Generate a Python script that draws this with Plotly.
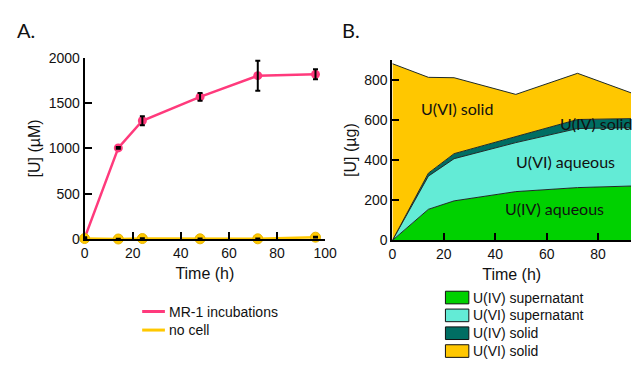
import plotly.graph_objects as go

# ---------------- data ----------------
time_h = [0, 14, 24, 48, 72, 96]

# Panel A  [U] (µM)
mr1_incubations = [10, 1005, 1305, 1568, 1802, 1817]
mr1_error = [10, 10, 50, 42, 165, 55]
no_cell = [5, 0, 5, 2, 2, 20]
no_cell_error = [4, 4, 4, 4, 4, 4]

# Panel B  [U] (µg), stacked
u4_supernatant = [0, 155, 197, 243, 263, 272]
u6_supernatant = [0, 165, 210, 244, 294, 290]
u4_solid = [0, 15, 25, 30, 45, 45]
u6_solid = [880, 477, 378, 210, 230, 113]

a_ticks = [0, 20, 40, 60, 80, 100]
a_yticks = [0, 500, 1000, 1500, 2000]
b_xticks = [0, 20, 40, 60, 80, 100]
b_yticks = [0, 200, 400, 600, 800]

legend_a = ["MR-1 incubations", "no cell"]
legend_b = ["U(IV) supernatant", "U(VI) supernatant", "U(IV) solid", "U(VI) solid"]
area_labels = ["U(IV) aqueous", "U(VI) aqueous", "U(IV) solid", "U(VI) solid"]
area_label_pos = [(62.9, 157), (67.2, 392), (79.0, 580), (25.3, 658)]

# ---------------- styles ----------------
W, H = 643, 368
PINK = "#FF3A7C"
YEL = "#FFC800"
B_COLORS = ["#00D100", "#63EBD6", "#006E63", "#FFC700"]
AX = "Liberation Sans, Arial, sans-serif"
AV = "Lato, sans-serif"

def px(x):
    return x / W

def py(y):
    return 1 - y / H

fig = go.Figure()

# Panel A lines
fig.add_trace(go.Scatter(x=time_h, y=mr1_incubations, mode="lines+markers",
                         line=dict(color=PINK, width=2.5),
                         marker=dict(color=PINK, size=9),
                         cliponaxis=False, showlegend=False,
                         xaxis="x", yaxis="y"))
fig.add_trace(go.Scatter(x=time_h, y=no_cell, mode="lines+markers",
                         line=dict(color=YEL, width=2.5),
                         marker=dict(color=YEL, size=10, line=dict(color="#E6B400", width=1)),
                         cliponaxis=False, showlegend=False,
                         xaxis="x", yaxis="y"))
# error bars on top
for vals, errs in [(mr1_incubations, mr1_error), (no_cell, no_cell_error)]:
    fig.add_trace(go.Scatter(x=time_h, y=vals, mode="markers",
                             marker=dict(size=2, opacity=0),
                             error_y=dict(type="data", array=errs, visible=True,
                                          color="black", thickness=2, width=2.5),
                             cliponaxis=False, showlegend=False,
                             xaxis="x", yaxis="y"))

# Panel B stacked areas
for vals, col, name in zip([u4_supernatant, u6_supernatant, u4_solid, u6_solid],
                           B_COLORS, legend_b):
    fig.add_trace(go.Scatter(x=time_h, y=vals, mode="lines", stackgroup="b",
                             fillcolor=col, line=dict(color="#1f2a28", width=1),
                             name=name, showlegend=False,
                             xaxis="x2", yaxis="y2"))

annotations = []
shapes = []

# area labels
for txt, (ax_, ay_) in zip(area_labels, area_label_pos):
    annotations.append(dict(text=txt, x=ax_, y=ay_, xref="x2", yref="y2",
                            showarrow=False, font=dict(family=AV, size=16, color="#111")))

# panel letters
annotations.append(dict(text="A.", x=px(11), y=py(22.5), xref="paper", yref="paper",
                        xanchor="left", yanchor="middle", showarrow=False,
                        font=dict(family=AV, size=20, color="#111")))
annotations.append(dict(text="B.", x=px(345), y=py(22.5), xref="paper", yref="paper",
                        xanchor="left", yanchor="middle", showarrow=False,
                        font=dict(family=AV, size=20, color="#111")))

# legend A
for i, (lab, col) in enumerate(zip(legend_a, [PINK, YEL])):
    yc = 317.3 + i * 19.4
    shapes.append(dict(type="line", xref="paper", yref="paper",
                       x0=px(141.7), x1=px(165), y0=py(yc), y1=py(yc),
                       line=dict(color=col, width=3)))
    annotations.append(dict(text=lab, x=px(167.5), y=py(yc), xref="paper", yref="paper",
                            xanchor="left", yanchor="middle", showarrow=False,
                            font=dict(family=AX, size=14, color="#111")))

# legend B
for i, (lab, col) in enumerate(zip(legend_b, B_COLORS)):
    yc = 302.7 + i * 18.65
    shapes.append(dict(type="rect", xref="paper", yref="paper",
                       x0=px(452.7), x1=px(476.7), y0=py(yc - 6.6), y1=py(yc + 6.6),
                       fillcolor=col, line=dict(color="#111", width=1)))
    annotations.append(dict(text=lab, x=px(478.5), y=py(yc), xref="paper", yref="paper",
                            xanchor="left", yanchor="middle", showarrow=False,
                            font=dict(family=AX, size=14, color="#111")))

axis_common = dict(showgrid=False, zeroline=False, showline=True, linecolor="black",
                   linewidth=2, ticks="inside", ticklen=7, tickwidth=2, tickcolor="black",
                   tickfont=dict(family=AX, size=14, color="#111"))

fig.update_layout(
    width=W, height=H, autosize=False,
    margin=dict(l=0, r=0, t=0, b=0),
    paper_bgcolor="white", plot_bgcolor="rgba(0,0,0,0)",
    showlegend=False,
    xaxis=dict(domain=[px(82.7), px(329.3)], range=[0, 100], tickvals=a_ticks,
               anchor="y",
               title=dict(text="Time (h)", font=dict(family=AX, size=16, color="#111"), standoff=8),
               **axis_common),
    yaxis=dict(domain=[py(241.5), py(52)], range=[0, 2000], tickvals=a_yticks,
               anchor="x",
               title=dict(text="[U] (µM)", font=dict(family=AX, size=16, color="#111"), standoff=4),
               **axis_common),
    xaxis2=dict(domain=[px(398.3), 1.0], range=[0, 92.8], tickvals=b_xticks,
                anchor="y2",
                title=dict(text="Time (h)", font=dict(family=AX, size=16, color="#111"), standoff=8),
                **axis_common),
    yaxis2=dict(domain=[py(243), py(54)], range=[0, 900], tickvals=b_yticks,
                anchor="x2",
                title=dict(text="[U] (µg)", font=dict(family=AX, size=16, color="#111"), standoff=4),
                **axis_common),
    annotations=annotations,
    shapes=shapes,
)

fig.write_html("out.html")
